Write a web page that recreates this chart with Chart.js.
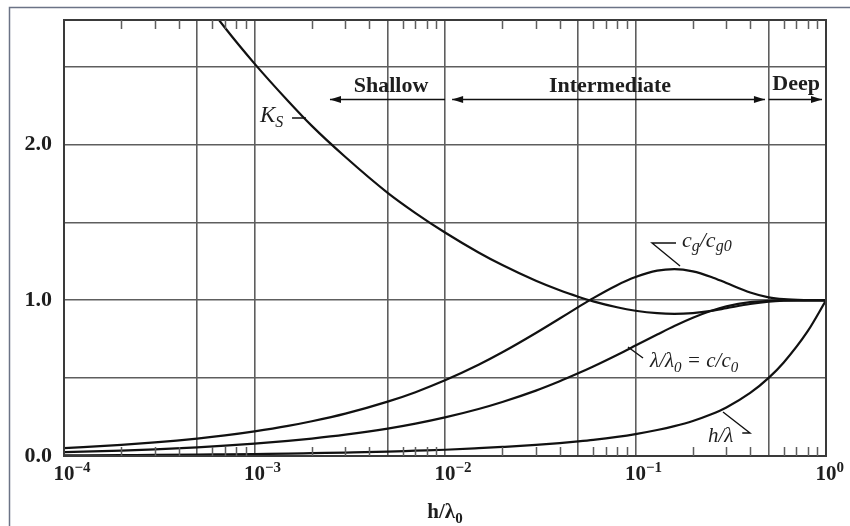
<!DOCTYPE html>
<html>
<head>
<meta charset="utf-8">
<script src="https://cdn.jsdelivr.net/npm/chart.js@4"></script>
<style>
  html, body { margin: 0; padding: 0; background: #fff; }
  #wrap { width: 850px; height: 526px; position: relative; }
</style>
</head>
<body>
<div id="wrap"><canvas id="chart"></canvas></div>
<script>
// h/lambda0 sample positions
const depthRatio = [1e-4, 2e-4, 3e-4, 5e-4, 7e-4, 1e-3, 1.5e-3, 2e-3, 3e-3, 5e-3, 7e-3, 1e-2, 1.5e-2, 2e-2, 3e-2, 4e-2, 5e-2, 6e-2, 8e-2, 0.1, 0.13, 0.16, 0.2, 0.25, 0.3, 0.4, 0.5, 0.6, 0.8, 1.0];

const shoaling = [4.47, 3.76, 3.39, 2.99, 2.75, 2.52, 2.28, 2.12, 1.92, 1.69, 1.56, 1.435, 1.307, 1.226, 1.125, 1.064, 1.023, 0.993, 0.955, 0.933, 0.917, 0.913, 0.918, 0.932, 0.949, 0.976, 0.991, 0.997, 1.0, 1.0];
const groupSpeed = [0.050, 0.071, 0.087, 0.112, 0.132, 0.158, 0.193, 0.223, 0.272, 0.349, 0.410, 0.486, 0.586, 0.666, 0.790, 0.883, 0.956, 1.014, 1.097, 1.149, 1.190, 1.200, 1.186, 1.150, 1.111, 1.050, 1.019, 1.007, 1.001, 1.0];
const celerity = [0.025, 0.035, 0.043, 0.056, 0.066, 0.079, 0.097, 0.112, 0.137, 0.176, 0.208, 0.248, 0.302, 0.347, 0.420, 0.480, 0.531, 0.575, 0.649, 0.709, 0.780, 0.835, 0.888, 0.933, 0.961, 0.988, 0.996, 0.999, 1.0, 1.0];
const depthOverLength = [0.004, 0.006, 0.007, 0.009, 0.011, 0.013, 0.015, 0.018, 0.022, 0.028, 0.034, 0.040, 0.050, 0.058, 0.071, 0.083, 0.094, 0.104, 0.123, 0.141, 0.167, 0.192, 0.225, 0.268, 0.312, 0.405, 0.502, 0.601, 0.800, 1.0];

const xGridValues = [1e-4, 5e-4, 1e-3, 5e-3, 1e-2, 5e-2, 0.1, 0.5, 1];
const decades = [1e-4, 1e-3, 1e-2, 1e-1, 1];
const decadeExp = ["\u22124", "\u22123", "\u22122", "\u22121", "0"];
const minorMult = [2, 3, 4, 6, 7, 8, 9];
const yGridValues = [0, 0.5, 1.0, 1.5, 2.0, 2.5];
const yLabelValues = [0, 1, 2];
const yLabelText = ["0.0", "1.0", "2.0"];

const SERIF = '"Liberation Serif", "Times New Roman", serif';
const INK = "#1e1e1e";
const GRID = "#5e5e5e";

function toPoints(ys) {
  return depthRatio.map((x, i) => ({ x: x, y: ys[i] }));
}

function curve(data) {
  return {
    data: toPoints(data),
    borderColor: "#111",
    borderWidth: 2.2,
    pointRadius: 0,
    fill: false,
    cubicInterpolationMode: "monotone"
  };
}

// draws a run of text pieces, [text, font, dy]
function rich(ctx, x, y, parts, align) {
  let w = 0;
  for (const p of parts) { ctx.font = p[1]; w += ctx.measureText(p[0]).width; }
  let cx = align === "center" ? x - w / 2 : x;
  ctx.textAlign = "left";
  ctx.textBaseline = "alphabetic";
  for (const p of parts) {
    ctx.font = p[1];
    ctx.fillText(p[0], cx, y + (p[2] || 0));
    cx += ctx.measureText(p[0]).width;
  }
}

function arrowHead(ctx, x, y, dir) {
  ctx.beginPath();
  ctx.moveTo(x, y);
  ctx.lineTo(x - dir * 11, y - 3.5);
  ctx.lineTo(x - dir * 11, y + 3.5);
  ctx.closePath();
  ctx.fill();
}

const decor = {
  id: "decor",
  beforeDraw(chart) {
    const ctx = chart.ctx;
    ctx.save();
    ctx.fillStyle = "#fff";
    ctx.fillRect(0, 0, chart.width, chart.height);
    ctx.strokeStyle = "#6b7386";
    ctx.lineWidth = 1.5;
    ctx.beginPath();
    ctx.moveTo(9.5, chart.height);
    ctx.lineTo(9.5, 7.5);
    ctx.lineTo(chart.width, 7.5);
    ctx.stroke();
    ctx.restore();
  },
  afterDraw(chart) {
    const ctx = chart.ctx;
    const xs = chart.scales.x, ys = chart.scales.y;
    const a = chart.chartArea;
    const px = v => xs.getPixelForValue(v);
    const py = v => ys.getPixelForValue(v);
    ctx.save();

    // plot frame
    ctx.strokeStyle = "#3a3a3a";
    ctx.lineWidth = 2;
    ctx.strokeRect(a.left, a.top, a.right - a.left, a.bottom - a.top);

    // minor ticks top and bottom
    ctx.strokeStyle = GRID;
    ctx.lineWidth = 1.5;
    ctx.beginPath();
    for (const d of decades.slice(0, 4)) {
      for (const m of minorMult) {
        const x = Math.round(px(d * m)) + 0.5;
        ctx.moveTo(x, a.top); ctx.lineTo(x, a.top + 9);
        ctx.moveTo(x, a.bottom); ctx.lineTo(x, a.bottom - 9);
      }
    }
    ctx.stroke();

    // y tick labels
    ctx.fillStyle = INK;
    ctx.font = "bold 22px " + SERIF;
    ctx.textAlign = "right";
    ctx.textBaseline = "middle";
    yLabelValues.forEach((v, i) => ctx.fillText(yLabelText[i], a.left - 12, py(v)));

    // x tick labels 10^n
    decades.forEach((d, i) => {
      const x = px(d);
      ctx.font = "bold 21px " + SERIF;
      const w = ctx.measureText("10").width;
      rich(ctx, x - w / 2, a.bottom + 24, [["10", "bold 21px " + SERIF, 0], [decadeExp[i], "bold 15px " + SERIF, -8]]);
    });

    // x title
    rich(ctx, (a.left + a.right) / 2, a.bottom + 62,
      [["h/\u03bb", "bold 21px " + SERIF, 0], ["0", "bold 15px " + SERIF, 5]], "center");

    // depth regions
    ctx.fillStyle = "#111";
    ctx.strokeStyle = "#111";
    ctx.lineWidth = 1.6;
    const ay = Math.round(py(2.293)) + 0.5;
    ctx.beginPath();
    ctx.moveTo(px(0.00249), ay); ctx.lineTo(px(0.01), ay);
    ctx.moveTo(px(0.0109), ay); ctx.lineTo(px(0.478), ay);
    ctx.moveTo(px(0.5), ay); ctx.lineTo(px(0.953), ay);
    ctx.stroke();
    arrowHead(ctx, px(0.00249), ay, -1);
    arrowHead(ctx, px(0.0109), ay, -1);
    arrowHead(ctx, px(0.478), ay, 1);
    arrowHead(ctx, px(0.953), ay, 1);

    ctx.fillStyle = INK;
    rich(ctx, px(0.00521), py(2.338), [["Shallow", "bold 22px " + SERIF, 0]], "center");
    rich(ctx, px(0.0735), py(2.338), [["Intermediate", "bold 22px " + SERIF, 0]], "center");
    rich(ctx, px(0.697), py(2.350), [["Deep", "bold 22px " + SERIF, 0]], "center");

    // curve labels and leaders
    ctx.strokeStyle = "#111";
    ctx.lineWidth = 1.4;
    ctx.beginPath();
    ctx.moveTo(px(0.001574), py(2.171)); ctx.lineTo(px(0.001863), py(2.171));
    ctx.moveTo(px(0.1632), py(1.368)); ctx.lineTo(px(0.1221), py(1.368)); ctx.lineTo(px(0.1713), py(1.220));
    ctx.moveTo(px(0.0913), py(0.700)); ctx.lineTo(px(0.1095), py(0.629));
    ctx.moveTo(px(0.2879), py(0.283)); ctx.lineTo(px(0.399), py(0.148)); ctx.lineTo(px(0.3634), py(0.148));
    ctx.stroke();

    const it = s => "italic " + s + "px " + SERIF;
    rich(ctx, px(0.001069), py(2.145), [["K", it(23), 0], ["S", it(16), 5]]);
    rich(ctx, px(0.1754), py(1.342), [["c", it(22), 0], ["g", it(16), 4], ["/c", it(22), 0], ["g0", it(16), 4]]);
    rich(ctx, px(0.1192), py(0.572), [["\u03bb/\u03bb", it(21), 0], ["0", it(15), 5], [" = c/c", it(21), 0], ["0", it(15), 5]]);
    rich(ctx, px(0.2402), py(0.090), [["h/\u03bb", it(21), 0]]);

    ctx.restore();
  }
};

new Chart(document.getElementById("chart"), {
  type: "line",
  data: {
    datasets: [curve(shoaling), curve(groupSpeed), curve(celerity), curve(depthOverLength)]
  },
  options: {
    responsive: true,
    maintainAspectRatio: false,
    animation: false,
    layout: { padding: { left: 0, right: 24, top: 20, bottom: 0 } },
    plugins: { legend: { display: false }, tooltip: { enabled: false } },
    scales: {
      x: {
        type: "logarithmic",
        min: 1e-4,
        max: 1,
        afterBuildTicks: s => { s.ticks = xGridValues.map(v => ({ value: v })); },
        afterFit: s => { s.height = 70; },
        ticks: { display: false },
        grid: { color: GRID, lineWidth: 1.6, drawTicks: false },
        border: { display: false }
      },
      y: {
        min: 0,
        max: 2.8,
        afterBuildTicks: s => { s.ticks = yGridValues.map(v => ({ value: v })); },
        afterFit: s => { s.width = 64; },
        ticks: { display: false },
        grid: { color: GRID, lineWidth: 1.6, drawTicks: false },
        border: { display: false }
      }
    }
  },
  plugins: [decor]
});
</script>
</body>
</html>
